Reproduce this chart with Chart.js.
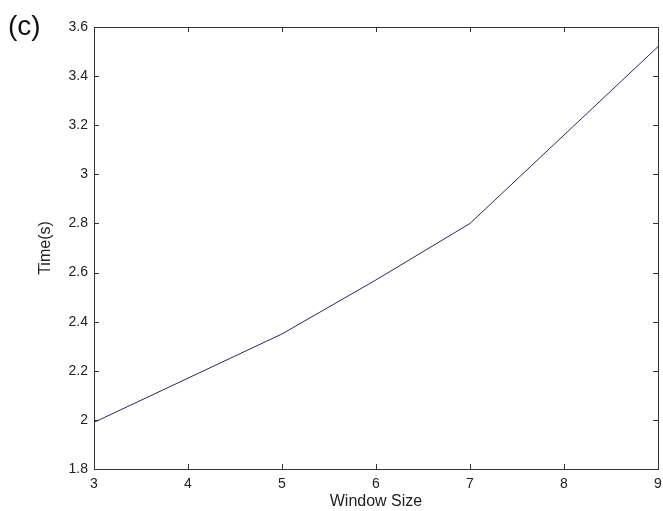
<!DOCTYPE html>
<html>
<head>
<meta charset="utf-8">
<script src="https://cdn.jsdelivr.net/npm/chart.js@4/dist/chart.umd.min.js"></script>
<style>
  html, body { margin: 0; padding: 0; background: #fff; }
  #wrap { position: relative; width: 663px; height: 511px; }
  #lbl { position: absolute; left: 8px; top: 10px; font-family: "Liberation Sans", Arial, sans-serif; font-size: 28px; color: #111; }
  canvas { display: block; }
</style>
</head>
<body>
<div id="wrap">
  <div id="lbl">(c)</div>
  <canvas id="c" width="663" height="511"></canvas>
</div>
<script>
const windowSizes = [3, 4, 5, 6, 7, 8, 9];
const timeValues = [1.99, 2.17, 2.35, 2.57, 2.80, 3.16, 3.52];
const xTicks = [3, 4, 5, 6, 7, 8, 9];
const yTicks = [1.8, 2, 2.2, 2.4, 2.6, 2.8, 3, 3.2, 3.4, 3.6];

const boxPlugin = {
  id: 'box',
  afterDraw(chart) {
    const { ctx, chartArea: a, scales } = chart;
    ctx.save();
    ctx.strokeStyle = '#333';
    ctx.lineWidth = 1;
    ctx.strokeRect(Math.round(a.left) + 0.5, Math.round(a.top) + 0.5, Math.round(a.right - a.left), Math.round(a.bottom - a.top));
    const L = 5;
    ctx.beginPath();
    xTicks.forEach(v => {
      const x = Math.round(scales.x.getPixelForValue(v)) + 0.5;
      ctx.moveTo(x, a.bottom); ctx.lineTo(x, a.bottom - L);
      ctx.moveTo(x, a.top); ctx.lineTo(x, a.top + L);
    });
    yTicks.forEach(v => {
      const y = Math.round(scales.y.getPixelForValue(v)) + 0.5;
      ctx.moveTo(a.left, y); ctx.lineTo(a.left + L, y);
      ctx.moveTo(a.right, y); ctx.lineTo(a.right - L, y);
    });
    ctx.stroke();
    ctx.restore();
  }
};

new Chart(document.getElementById('c'), {
  type: 'line',
  data: {
    datasets: [{
      data: windowSizes.map((x, i) => ({ x: x, y: timeValues[i] })),
      borderColor: '#2a2a5a',
      borderWidth: 1,
      pointRadius: 0,
      tension: 0,
      fill: false
    }]
  },
  options: {
    responsive: false,
    animation: false,
    devicePixelRatio: 1,
    layout: { padding: { left: 0, right: 5, top: 27, bottom: 0 } },
    plugins: { legend: { display: false }, tooltip: { enabled: false } },
    scales: {
      x: {
        type: 'linear', min: 3, max: 9,
        afterBuildTicks: s => { s.ticks = xTicks.map(v => ({ value: v })); },
        afterFit: s => { s.height = 42; s.paddingLeft = 0; s.paddingRight = 0; },
        grid: { display: false, drawTicks: false },
        border: { display: false },
        ticks: { padding: 7, color: '#222', font: { family: '"Liberation Sans", Arial, sans-serif', size: 14 }, maxRotation: 0 },
        title: { display: true, text: 'Window Size', color: '#222', padding: { top: 1, bottom: 0 }, font: { family: '"Liberation Sans", Arial, sans-serif', size: 16 } }
      },
      y: {
        type: 'linear', min: 1.8, max: 3.6,
        afterBuildTicks: s => { s.ticks = yTicks.map(v => ({ value: v })); },
        afterFit: s => { s.width = 94; s.paddingTop = 0; s.paddingBottom = 0; },
        grid: { display: false, drawTicks: false },
        border: { display: false },
        ticks: { padding: 6, color: '#222', font: { family: '"Liberation Sans", Arial, sans-serif', size: 14 }, callback: v => String(Number(v.toFixed(1))) },
        title: { display: true, text: 'Time(s)', color: '#222', padding: { top: 36, bottom: 0 }, font: { family: '"Liberation Sans", Arial, sans-serif', size: 16 } }
      }
    }
  },
  plugins: [boxPlugin]
});
</script>
</body>
</html>
